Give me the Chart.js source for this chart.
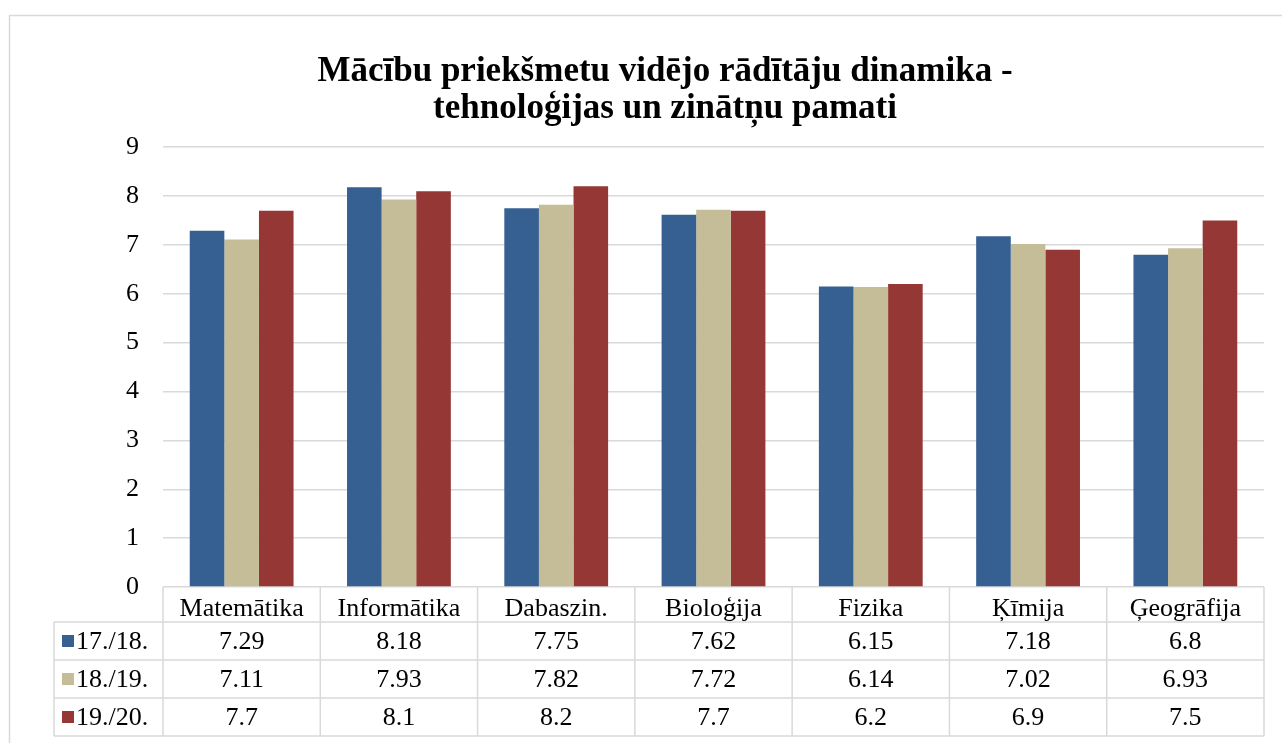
<!DOCTYPE html>
<html lang="lv">
<head>
  <meta charset="UTF-8">
  <title>Mācību priekšmetu vidējo rādītāju dinamika</title>
  <script src="https://cdn.jsdelivr.net/npm/chart.js"></script>
  <style>
    html, body { margin: 0; padding: 0; background: #fff; overflow: hidden; }
  </style>
</head>
<body>
  <canvas id="chart" width="1330" height="743"></canvas>

  <script>
    // dati
    const categories = ['Matemātika', 'Informātika', 'Dabaszin.', 'Bioloģija', 'Fizika', 'Ķīmija', 'Ģeogrāfija'];
    const seriesNames = ['17./18.', '18./19.', '19./20.'];
    const y1718 = [7.29, 8.18, 7.75, 7.62, 6.15, 7.18, 6.8];
    const y1819 = [7.11, 7.93, 7.82, 7.72, 6.14, 7.02, 6.93];
    const y1920 = [7.7, 8.1, 8.2, 7.7, 6.2, 6.9, 7.5];
    const yTicks = [0, 1, 2, 3, 4, 5, 6, 7, 8, 9];

    const colors = ['#376092', '#c4bd97', '#953735'];
    const font = '"Liberation Serif", "Times New Roman", serif';
    const lineColor = '#d9d9d9';

    // tabula zem grafika
    const dataTable = {
      id: 'dataTable',
      beforeDraw(chart) {
        const c = chart.ctx;
        c.save();
        c.strokeStyle = lineColor;
        c.lineWidth = 1.5;
        c.strokeRect(9.5, 15.5, chart.width - 18, chart.height + 10);
        c.restore();
      },
      afterDraw(chart) {
        const c = chart.ctx;
        const area = chart.chartArea;
        const w = (area.right - area.left) / categories.length;
        const headBottom = area.bottom + 35;
        const rowH = 38;
        const tableLeft = 54;
        const bottom = headBottom + rowH * seriesNames.length;

        c.save();
        c.strokeStyle = lineColor;
        c.lineWidth = 1.5;
        c.beginPath();
        for (let r = 0; r <= seriesNames.length; r++) {
          c.moveTo(tableLeft, headBottom + r * rowH);
          c.lineTo(area.right, headBottom + r * rowH);
        }
        c.moveTo(tableLeft, headBottom);
        c.lineTo(tableLeft, bottom);
        for (let i = 0; i <= categories.length; i++) {
          c.moveTo(area.left + i * w, area.bottom);
          c.lineTo(area.left + i * w, bottom);
        }
        c.stroke();

        c.font = '26px ' + font;
        c.fillStyle = '#000';
        c.textBaseline = 'middle';
        chart.data.datasets.forEach((ds, r) => {
          const yc = headBottom + r * rowH + rowH / 2;
          c.fillStyle = colors[r];
          c.fillRect(62, yc - 6, 12, 12);
          c.fillStyle = '#000';
          c.textAlign = 'left';
          c.fillText(ds.label, 76, yc + 1);
          c.textAlign = 'center';
          ds.data.forEach((v, i) => {
            c.fillText(String(v), area.left + i * w + w / 2, yc + 1);
          });
        });
        c.restore();
      }
    };

    const ctx = document.getElementById('chart').getContext('2d');

    new Chart(ctx, {
      type: 'bar',
      data: {
        labels: categories,
        datasets: [
          { label: seriesNames[0], data: y1718, backgroundColor: colors[0] },
          { label: seriesNames[1], data: y1819, backgroundColor: colors[1] },
          { label: seriesNames[2], data: y1920, backgroundColor: colors[2] }
        ]
      },
      options: {
        responsive: false,
        animation: false,
        layout: { padding: 0 },
        datasets: {
          bar: { barPercentage: 1, categoryPercentage: 0.66, borderWidth: 0 }
        },
        plugins: {
          legend: { display: false },
          tooltip: { enabled: false },
          title: {
            display: true,
            text: ['Mācību priekšmetu vidējo rādītāju dinamika -', 'tehnoloģijas un zinātņu pamati'],
            color: '#000',
            font: { family: font, size: 35, weight: 'bold', lineHeight: 1.06 },
            padding: { top: 53, bottom: 20 }
          }
        },
        scales: {
          x: {
            grid: { display: false },
            border: { display: false },
            ticks: {
              color: '#000',
              font: { family: font, size: 26 },
              padding: -1,
              autoSkip: false,
              maxRotation: 0
            },
            afterFit(axis) { axis.height = 156; }
          },
          y: {
            min: 0,
            max: 9,
            afterBuildTicks(axis) { axis.ticks = yTicks.map(v => ({ value: v })); },
            grid: { color: lineColor, lineWidth: 1.5, drawTicks: false },
            border: { display: false },
            ticks: {
              color: '#000',
              font: { family: font, size: 26 },
              padding: 24
            },
            afterFit(axis) { axis.width = 163; }
          },
          // tukša vieta labajā pusē, lai virsraksts paliek centrā
          yRight: {
            position: 'right',
            grid: { display: false },
            border: { display: false },
            ticks: { display: false },
            afterFit(axis) { axis.width = 66; }
          }
        }
      },
      plugins: [dataTable]
    });
  </script>
</body>
</html>
